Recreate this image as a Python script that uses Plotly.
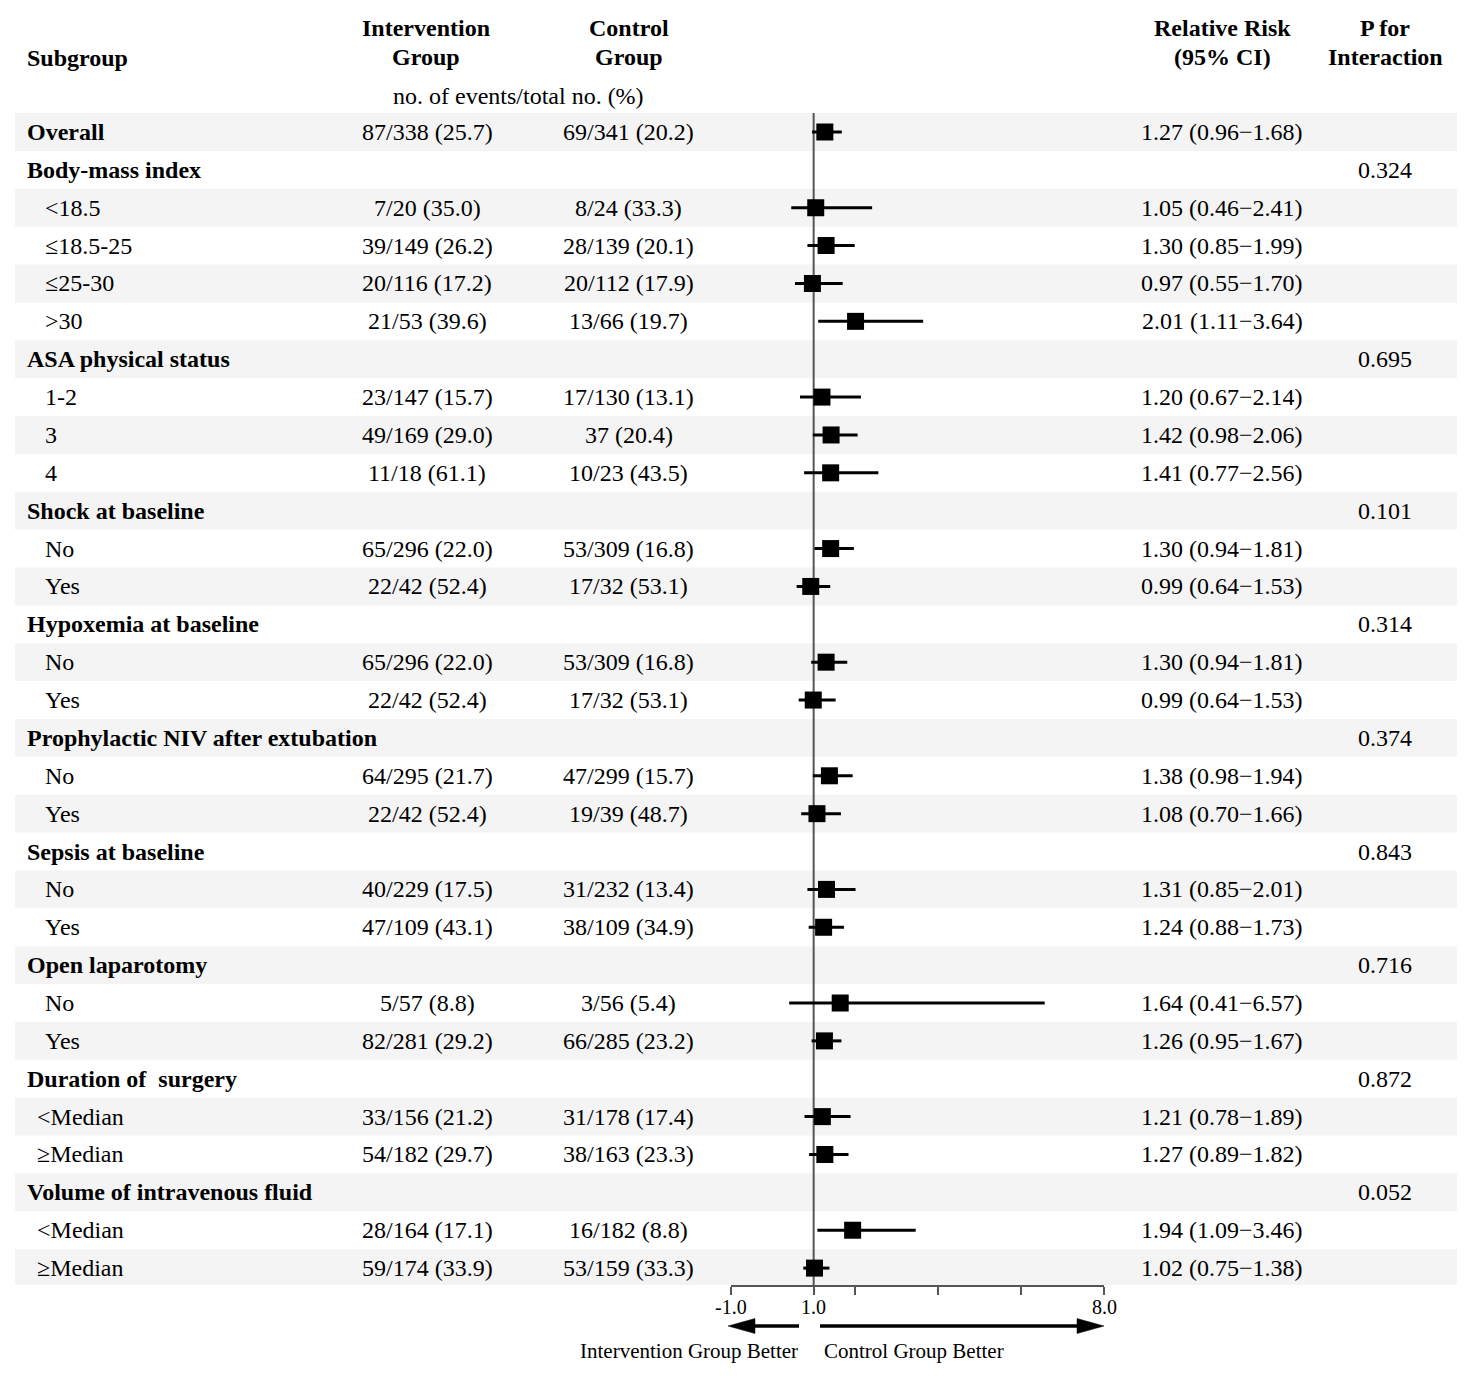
import plotly.graph_objects as go

# ---------------- data ----------------
subgroups = ["Overall", "Body-mass index", "<18.5", "≤18.5-25", "≤25-30", ">30",
             "ASA physical status", "1-2", "3", "4",
             "Shock at baseline", "No", "Yes",
             "Hypoxemia at baseline", "No", "Yes",
             "Prophylactic NIV after extubation", "No", "Yes",
             "Sepsis at baseline", "No", "Yes",
             "Open laparotomy", "No", "Yes",
             "Duration of\u00a0 surgery", "<Median", "≥Median",
             "Volume of intravenous fluid", "<Median", "≥Median"]
is_header = [True, True, False, False, False, False,
             True, False, False, False,
             True, False, False,
             True, False, False,
             True, False, False,
             True, False, False,
             True, False, False,
             True, False, False,
             True, False, False]
intervention = ["87/338 (25.7)", "", "7/20 (35.0)", "39/149 (26.2)", "20/116 (17.2)", "21/53 (39.6)",
                "", "23/147 (15.7)", "49/169 (29.0)", "11/18 (61.1)",
                "", "65/296 (22.0)", "22/42 (52.4)",
                "", "65/296 (22.0)", "22/42 (52.4)",
                "", "64/295 (21.7)", "22/42 (52.4)",
                "", "40/229 (17.5)", "47/109 (43.1)",
                "", "5/57 (8.8)", "82/281 (29.2)",
                "", "33/156 (21.2)", "54/182 (29.7)",
                "", "28/164 (17.1)", "59/174 (33.9)"]
control = ["69/341 (20.2)", "", "8/24 (33.3)", "28/139 (20.1)", "20/112 (17.9)", "13/66 (19.7)",
           "", "17/130 (13.1)", "37 (20.4)", "10/23 (43.5)",
           "", "53/309 (16.8)", "17/32 (53.1)",
           "", "53/309 (16.8)", "17/32 (53.1)",
           "", "47/299 (15.7)", "19/39 (48.7)",
           "", "31/232 (13.4)", "38/109 (34.9)",
           "", "3/56 (5.4)", "66/285 (23.2)",
           "", "31/178 (17.4)", "38/163 (23.3)",
           "", "16/182 (8.8)", "53/159 (33.3)"]
rr_text = ["1.27 (0.96−1.68)", "", "1.05 (0.46−2.41)", "1.30 (0.85−1.99)", "0.97 (0.55−1.70)", "2.01 (1.11−3.64)",
           "", "1.20 (0.67−2.14)", "1.42 (0.98−2.06)", "1.41 (0.77−2.56)",
           "", "1.30 (0.94−1.81)", "0.99 (0.64−1.53)",
           "", "1.30 (0.94−1.81)", "0.99 (0.64−1.53)",
           "", "1.38 (0.98−1.94)", "1.08 (0.70−1.66)",
           "", "1.31 (0.85−2.01)", "1.24 (0.88−1.73)",
           "", "1.64 (0.41−6.57)", "1.26 (0.95−1.67)",
           "", "1.21 (0.78−1.89)", "1.27 (0.89−1.82)",
           "", "1.94 (1.09−3.46)", "1.02 (0.75−1.38)"]
p_interaction = ["", "0.324", "", "", "", "",
                 "0.695", "", "", "",
                 "0.101", "", "",
                 "0.314", "", "",
                 "0.374", "", "",
                 "0.843", "", "",
                 "0.716", "", "",
                 "0.872", "", "",
                 "0.052", "", ""]
# plotted estimates (as drawn in the figure)
rr_plot = [1.27, None, 1.05, 1.30, 0.97, 2.01,
           None, 1.20, 1.42, 1.41,
           None, 1.41, 0.93,
           None, 1.30, 0.99,
           None, 1.38, 1.08,
           None, 1.31, 1.24,
           None, 1.64, 1.26,
           None, 1.21, 1.27,
           None, 1.94, 1.02]
lo_plot = [0.96, None, 0.46, 0.85, 0.55, 1.11,
           None, 0.67, 0.98, 0.77,
           None, 1.02, 0.59,
           None, 0.94, 0.64,
           None, 0.98, 0.70,
           None, 0.85, 0.88,
           None, 0.41, 0.95,
           None, 0.78, 0.89,
           None, 1.09, 0.75]
hi_plot = [1.68, None, 2.41, 1.99, 1.70, 3.64,
           None, 2.14, 2.06, 2.56,
           None, 1.97, 1.40,
           None, 1.81, 1.53,
           None, 1.94, 1.66,
           None, 2.01, 1.73,
           None, 6.57, 1.67,
           None, 1.89, 1.84,
           None, 3.46, 1.38]
tick_vals = [-1, 1, 2, 4, 6, 8]
tick_text = ["-1.0", "1.0", "", "", "", "8.0"]
header_cols = [("Intervention", "Group"), ("Control", "Group"),
               ("Relative Risk", "(95% CI)"), ("P for", "Interaction")]
units_label = "no. of events/total no. (%)"
left_label = "Intervention Group Better"
right_label = "Control Group Better"

# ---------------- layout geometry ----------------
W, H = 1476, 1376
# mapping from target-image pixels to paper coordinates (page has an 8px body margin)
X0_PX, XW_PX = 8.0, 1476.0
Y0_PX = 8.0
ROW0, ROWH = 132.0, 37.87      # target-image pixel of row 0 centre, row pitch
AXIS_PX = 1285.0               # target-image pixel of the x-axis line
FONT = "Liberation Serif, Times New Roman, serif"
BLACK = "#000000"


def fx(p):
    return (p - X0_PX) / XW_PX


def fy(p):
    return 1 - (p - Y0_PX) / H


y_top = (Y0_PX - ROW0) / ROWH
y_bot = (AXIS_PX - ROW0) / ROWH
n = len(subgroups)
rows = list(range(n))

fig = go.Figure()

# CI lines
xs, ys = [], []
for i in rows:
    if lo_plot[i] is not None:
        xs += [lo_plot[i], hi_plot[i], None]
        ys += [i, i, None]
fig.add_trace(go.Scatter(x=xs, y=ys, mode="lines", line=dict(color=BLACK, width=3),
                         hoverinfo="skip", showlegend=False))
# point estimates
fig.add_trace(go.Scatter(x=[rr_plot[i] for i in rows if rr_plot[i] is not None],
                         y=[i for i in rows if rr_plot[i] is not None],
                         mode="markers",
                         marker=dict(symbol="square", size=17, color=BLACK, line=dict(width=0)),
                         showlegend=False))

shapes = []
# alternating bands
for i in rows:
    if i % 2 == 0:
        shapes.append(dict(type="rect", xref="paper", yref="y", x0=fx(15), x1=fx(1457),
                           y0=i - 0.5, y1=i + 0.5, fillcolor="#f4f4f4", line=dict(width=0),
                           layer="below"))
# null line
shapes.append(dict(type="line", xref="x", yref="y", x0=1, x1=1, y0=-0.5, y1=y_bot,
                   line=dict(color="#555555", width=2), layer="below"))
# arrows
ay = fy(1326)
hh = 7.5 / H
shapes.append(dict(type="line", xref="paper", yref="paper", x0=fx(799), x1=fx(752), y0=ay, y1=ay,
                   line=dict(color=BLACK, width=3.5)))
shapes.append(dict(type="path", xref="paper", yref="paper",
                   path=f"M {fx(728)},{ay} L {fx(755)},{ay + hh} L {fx(755)},{ay - hh} Z",
                   fillcolor=BLACK, line=dict(color=BLACK, width=0.5)))
shapes.append(dict(type="line", xref="paper", yref="paper", x0=fx(820), x1=fx(1080), y0=ay, y1=ay,
                   line=dict(color=BLACK, width=3.5)))
shapes.append(dict(type="path", xref="paper", yref="paper",
                   path=f"M {fx(1104)},{ay} L {fx(1077)},{ay + hh} L {fx(1077)},{ay - hh} Z",
                   fillcolor=BLACK, line=dict(color=BLACK, width=0.5)))

ann = []


def add_text(text, x, y, xanchor="center", bold=False, size=24, yref="y", xref="paper"):
    ann.append(dict(text=f"<b>{text}</b>" if bold else text, x=x, y=y, xref=xref, yref=yref,
                    xanchor=xanchor, yanchor="middle", showarrow=False,
                    font=dict(family=FONT, size=size, color=BLACK)))


# headers
add_text("Subgroup", fx(25), fy(58), xanchor="left", bold=True, yref="paper")
for (l1, l2), cx in zip(header_cols, [426, 629, 1222, 1385]):
    add_text(l1, fx(cx), fy(28), bold=True, yref="paper")
    add_text(l2, fx(cx), fy(57), bold=True, yref="paper")
add_text(units_label, fx(518.5), fy(96), yref="paper")

# rows
for i in rows:
    lab = subgroups[i]
    if is_header[i]:
        add_text(lab, fx(25), i, xanchor="left", bold=True)
    else:
        indent = 35 if "Median" in lab else 43
        add_text(lab, fx(indent), i, xanchor="left")
    if intervention[i]:
        add_text(intervention[i], fx(427), i)
    if control[i]:
        add_text(control[i], fx(628.5), i)
    if rr_text[i]:
        add_text(rr_text[i], fx(1222), i)
    if p_interaction[i]:
        add_text(p_interaction[i], fx(1385), i)

# axis tick labels (placed as text at the axis values)
for v, t in zip(tick_vals, tick_text):
    if t:
        add_text(t, v, fy(1307), size=20, yref="paper", xref="x")

# direction labels
add_text(left_label, fx(800), fy(1351), xanchor="right", size=21, yref="paper")
add_text(right_label, fx(822), fy(1351), xanchor="left", size=21, yref="paper")

fig.update_layout(
    width=W, height=H,
    margin=dict(l=0, r=0, t=0, b=0),
    paper_bgcolor="white", plot_bgcolor="rgba(0,0,0,0)",
    shapes=shapes, annotations=ann,
    showlegend=False,
    xaxis=dict(domain=[fx(730.7), fx(1104)], range=[-1, 8], showgrid=False, zeroline=False,
               showline=True, linecolor="#555555", linewidth=1.5,
               ticks="outside", ticklen=8, tickwidth=1.5, tickcolor="#555555",
               tickvals=tick_vals, showticklabels=False, fixedrange=True),
    yaxis=dict(domain=[(H + Y0_PX - AXIS_PX) / H, 1], range=[y_bot, y_top], showgrid=False,
               zeroline=False, showticklabels=False, showline=False, ticks="", fixedrange=True),
)

fig.write_html("out.html")
